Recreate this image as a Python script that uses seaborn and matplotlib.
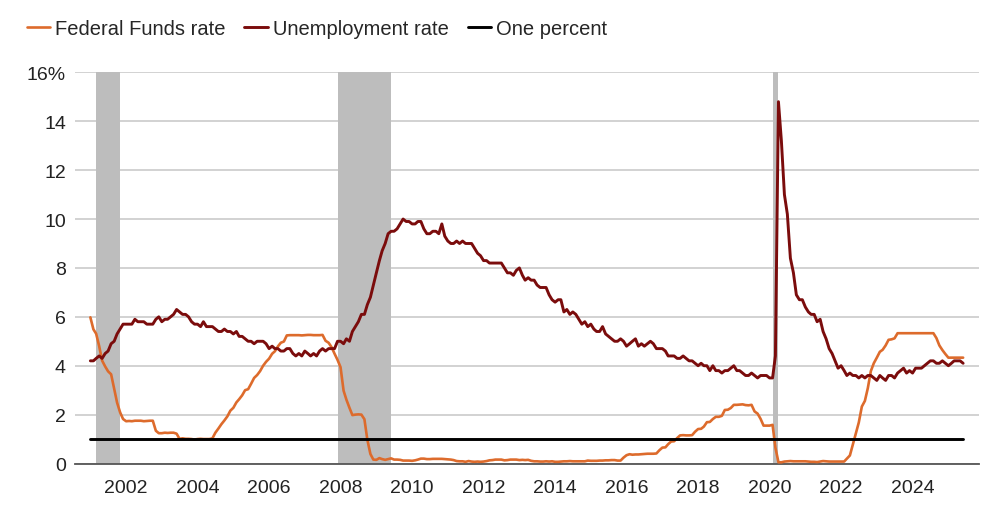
import pandas as pd
import matplotlib.pyplot as plt
import matplotlib.dates as mdates
import seaborn as sns

# Monthly values, Jan 2001 - Jun 2025
unemployment = [
    4.2, 4.2, 4.3, 4.4, 4.3, 4.5, 4.6, 4.9, 5.0, 5.3, 5.5, 5.7,
    5.7, 5.7, 5.7, 5.9, 5.8, 5.8, 5.8, 5.7, 5.7, 5.7, 5.9, 6.0,
    5.8, 5.9, 5.9, 6.0, 6.1, 6.3, 6.2, 6.1, 6.1, 6.0, 5.8, 5.7,
    5.7, 5.6, 5.8, 5.6, 5.6, 5.6, 5.5, 5.4, 5.4, 5.5, 5.4, 5.4,
    5.3, 5.4, 5.2, 5.2, 5.1, 5.0, 5.0, 4.9, 5.0, 5.0, 5.0, 4.9,
    4.7, 4.8, 4.7, 4.7, 4.6, 4.6, 4.7, 4.7, 4.5, 4.4, 4.5, 4.4,
    4.6, 4.5, 4.4, 4.5, 4.4, 4.6, 4.7, 4.6, 4.7, 4.7, 4.7, 5.0,
    5.0, 4.9, 5.1, 5.0, 5.4, 5.6, 5.8, 6.1, 6.1, 6.5, 6.8, 7.3,
    7.8, 8.3, 8.7, 9.0, 9.4, 9.5, 9.5, 9.6, 9.8, 10.0, 9.9, 9.9,
    9.8, 9.8, 9.9, 9.9, 9.6, 9.4, 9.4, 9.5, 9.5, 9.4, 9.8, 9.3,
    9.1, 9.0, 9.0, 9.1, 9.0, 9.1, 9.0, 9.0, 9.0, 8.8, 8.6, 8.5,
    8.3, 8.3, 8.2, 8.2, 8.2, 8.2, 8.2, 8.0, 7.8, 7.8, 7.7, 7.9,
    8.0, 7.7, 7.5, 7.6, 7.5, 7.5, 7.3, 7.2, 7.2, 7.2, 6.9, 6.7,
    6.6, 6.7, 6.7, 6.2, 6.3, 6.1, 6.2, 6.1, 5.9, 5.7, 5.8, 5.6,
    5.7, 5.5, 5.4, 5.4, 5.6, 5.3, 5.2, 5.1, 5.0, 5.0, 5.1, 5.0,
    4.8, 4.9, 5.0, 5.1, 4.8, 4.9, 4.8, 4.9, 5.0, 4.9, 4.7, 4.7,
    4.7, 4.6, 4.4, 4.4, 4.4, 4.3, 4.3, 4.4, 4.3, 4.2, 4.2, 4.1,
    4.0, 4.1, 4.0, 4.0, 3.8, 4.0, 3.8, 3.8, 3.7, 3.8, 3.8, 3.9,
    4.0, 3.8, 3.8, 3.7, 3.6, 3.6, 3.7, 3.6, 3.5, 3.6, 3.6, 3.6,
    3.5, 3.5, 4.4, 14.8, 13.2, 11.0, 10.2, 8.4, 7.8, 6.9, 6.7, 6.7,
    6.4, 6.2, 6.1, 6.1, 5.8, 5.9, 5.4, 5.1, 4.7, 4.5, 4.2, 3.9,
    4.0, 3.8, 3.6, 3.7, 3.6, 3.6, 3.5, 3.6, 3.5, 3.6, 3.6, 3.5,
    3.4, 3.6, 3.5, 3.4, 3.6, 3.6, 3.5, 3.7, 3.8, 3.9, 3.7, 3.8,
    3.7, 3.9, 3.9, 3.9, 4.0, 4.1, 4.2, 4.2, 4.1, 4.1, 4.2, 4.1,
    4.0, 4.1, 4.2, 4.2, 4.2, 4.1,
]

fed_funds = [
    5.98, 5.49, 5.31, 4.80, 4.21, 3.97, 3.77, 3.65, 3.07, 2.49, 2.09, 1.82,
    1.73, 1.74, 1.73, 1.75, 1.75, 1.75, 1.73, 1.74, 1.75, 1.75, 1.34, 1.24,
    1.24, 1.26, 1.25, 1.26, 1.26, 1.22, 1.01, 1.03, 1.01, 1.01, 1.00, 0.98,
    1.00, 1.01, 1.00, 1.00, 1.00, 1.03, 1.26, 1.43, 1.61, 1.76, 1.93, 2.16,
    2.28, 2.50, 2.63, 2.79, 3.00, 3.04, 3.26, 3.50, 3.62, 3.78, 4.00, 4.16,
    4.29, 4.49, 4.59, 4.79, 4.94, 4.99, 5.24, 5.25, 5.25, 5.25, 5.25, 5.24,
    5.25, 5.26, 5.26, 5.25, 5.25, 5.25, 5.26, 5.02, 4.94, 4.76, 4.49, 4.24,
    3.94, 2.98, 2.61, 2.28, 1.98, 2.00, 2.01, 2.00, 1.81, 0.97, 0.39, 0.16,
    0.15, 0.22, 0.18, 0.15, 0.18, 0.21, 0.16, 0.16, 0.15, 0.12, 0.12, 0.12,
    0.11, 0.13, 0.16, 0.20, 0.20, 0.18, 0.18, 0.19, 0.19, 0.19, 0.19, 0.18,
    0.17, 0.16, 0.14, 0.10, 0.09, 0.09, 0.07, 0.10, 0.08, 0.07, 0.08, 0.07,
    0.08, 0.10, 0.13, 0.14, 0.16, 0.16, 0.16, 0.13, 0.14, 0.16, 0.16, 0.16,
    0.14, 0.15, 0.14, 0.15, 0.11, 0.09, 0.09, 0.08, 0.08, 0.09, 0.08, 0.09,
    0.07, 0.07, 0.08, 0.09, 0.09, 0.10, 0.09, 0.09, 0.09, 0.09, 0.09, 0.12,
    0.11, 0.11, 0.11, 0.12, 0.12, 0.13, 0.13, 0.14, 0.14, 0.12, 0.12, 0.24,
    0.34, 0.38, 0.36, 0.37, 0.37, 0.38, 0.39, 0.40, 0.40, 0.40, 0.41, 0.54,
    0.65, 0.66, 0.79, 0.90, 0.91, 1.04, 1.15, 1.16, 1.15, 1.15, 1.16, 1.30,
    1.41, 1.42, 1.51, 1.69, 1.70, 1.82, 1.91, 1.91, 1.95, 2.19, 2.20, 2.27,
    2.40, 2.40, 2.41, 2.42, 2.39, 2.38, 2.40, 2.13, 2.04, 1.83, 1.55, 1.55,
    1.55, 1.58, 0.65, 0.05, 0.05, 0.08, 0.09, 0.10, 0.09, 0.09, 0.09, 0.09,
    0.09, 0.08, 0.07, 0.07, 0.06, 0.08, 0.10, 0.09, 0.08, 0.08, 0.08, 0.08,
    0.08, 0.08, 0.20, 0.33, 0.77, 1.21, 1.68, 2.33, 2.56, 3.08, 3.78, 4.10,
    4.33, 4.57, 4.65, 4.83, 5.06, 5.08, 5.12, 5.33, 5.33, 5.33, 5.33, 5.33,
    5.33, 5.33, 5.33, 5.33, 5.33, 5.33, 5.33, 5.33, 5.13, 4.83, 4.64, 4.48,
    4.33, 4.33, 4.33, 4.33, 4.33, 4.33,
]

one_percent = 1.0

recessions = [
    ("2001-03-01", "2001-11-01"),
    ("2007-12-01", "2009-06-01"),
    ("2020-02-01", "2020-04-01"),
]

tick_years = list(range(2002, 2025, 2))
y_ticks = [0, 2, 4, 6, 8, 10, 12, 14, 16]
y_labels = ["0", "2", "4", "6", "8", "10", "12", "14", "16%"]

df = pd.DataFrame({
    "date": pd.date_range("2001-01-01", periods=len(unemployment), freq="MS"),
    "unemployment": unemployment,
    "fed_funds": fed_funds,
})
df["one_percent"] = one_percent

sns.set_theme(style="white")
plt.rcParams["font.family"] = ["Liberation Sans", "DejaVu Sans"]

fig = plt.figure(figsize=(10, 5.06), dpi=100)
ax = fig.add_axes([0.075, 0.082, 0.904, 0.773])

# recession shading
for start, end in recessions:
    ax.axvspan(pd.Timestamp(start), pd.Timestamp(end), color="#bdbdbd", lw=0, zorder=1)

sns.lineplot(data=df, x="date", y="fed_funds", ax=ax, color="#dd6b2c",
             lw=1.9, label="Federal Funds rate", zorder=3)
sns.lineplot(data=df, x="date", y="unemployment", ax=ax, color="#7b0c0c",
             lw=2.1, label="Unemployment rate", zorder=4)
sns.lineplot(data=df, x="date", y="one_percent", ax=ax, color="black",
             lw=2.1, label="One percent", zorder=5)

ax.set_ylim(0, 16)
ax.set_xlim(pd.Timestamp("2000-07-28"), pd.Timestamp("2025-11-10"))
ax.set_yticks(y_ticks)
ax.set_yticklabels(y_labels)
ax.set_xticks([pd.Timestamp(f"{y}-01-01") for y in tick_years])
ax.xaxis.set_major_formatter(mdates.DateFormatter("%Y"))
ax.set_xlabel("")
ax.set_ylabel("")

ax.set_axisbelow(True)
ax.yaxis.grid(True, color="#cfcfcf", lw=1.3)
ax.xaxis.grid(False)
for side in ["top", "right", "left"]:
    ax.spines[side].set_visible(False)
ax.spines["bottom"].set_color("#555555")
ax.spines["bottom"].set_linewidth(1.3)
ax.tick_params(axis="both", length=0, labelsize=14, labelcolor="#222222")
ax.tick_params(axis="y", pad=6.5)
ax.tick_params(axis="x", pad=11)

ax.get_legend().remove()
handles, labels = ax.get_legend_handles_labels()
fig.legend(handles, labels, loc="center left", bbox_to_anchor=(0.0185, 0.941),
           ncol=3, frameon=False, fontsize=14.5, handlelength=1.15,
           handletextpad=0.25, columnspacing=0.95, borderaxespad=0)

fig.savefig("out.png", dpi=100)
